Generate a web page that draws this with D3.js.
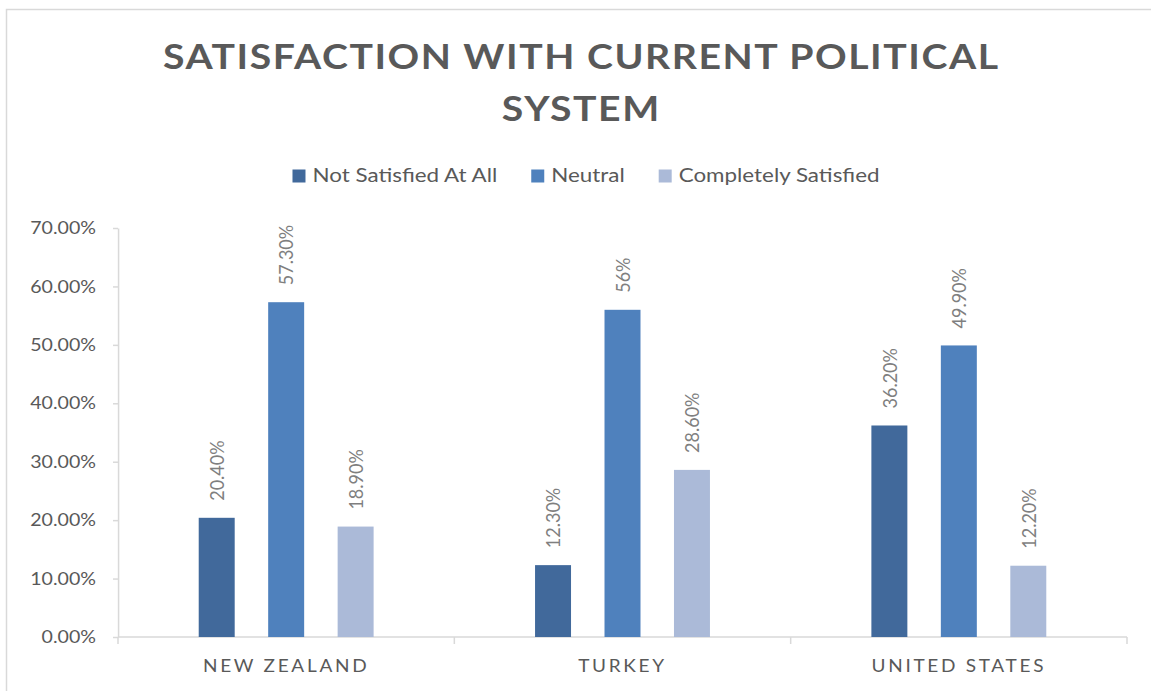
<!DOCTYPE html>
<html>
<head>
<meta charset="utf-8">
<script src="https://cdn.jsdelivr.net/npm/d3@7"></script>
<style>
  html, body { margin: 0; padding: 0; background: #ffffff; overflow: hidden; }
  svg { display: block; }
  text { font-family: Lato, "Open Sans", sans-serif; }
</style>
</head>
<body>
<svg id="chart"></svg>
<script>
// Survey data: share of respondents (percent) by country and satisfaction level
const countries = ["NEW ZEALAND", "TURKEY", "UNITED STATES"];
const seriesNames = ["Not Satisfied At All", "Neutral", "Completely Satisfied"];
const notSatisfied = [20.4, 12.3, 36.2];
const neutral = [57.3, 56, 49.9];
const completelySatisfied = [18.9, 28.6, 12.2];
const seriesColors = ["#41699b", "#4f81bd", "#abbad8"];
const yTickValues = [0, 10, 20, 30, 40, 50, 60, 70];
const titleLines = ["SATISFACTION WITH CURRENT POLITICAL", "SYSTEM"];

const seriesValues = [notSatisfied, neutral, completelySatisfied];

// The drawing is laid out in a horizontally condensed coordinate system and
// stretched to the window width, giving the wide-set lettering of the design.
const stretch = 1.12;
const width = 1151, height = 691;
const vbWidth = width / stretch;
const hx = v => v / stretch; // horizontal page pixels -> drawing units

const svg = d3.select("#chart")
  .attr("width", width)
  .attr("height", height)
  .attr("viewBox", `0 0 ${vbWidth} ${height}`)
  .attr("preserveAspectRatio", "none");

const textColor = "#595959";
const lineColor = "#d9d9d9";

svg.append("rect")
  .attr("x", 0).attr("y", 0).attr("width", vbWidth).attr("height", height)
  .attr("fill", "#ffffff");

// Chart area frame (continues past the right and bottom edges)
svg.append("rect")
  .attr("x", hx(6.5)).attr("y", 9.5)
  .attr("width", vbWidth).attr("height", height)
  .attr("fill", "none")
  .attr("stroke", lineColor)
  .attr("stroke-width", 1.5)
  .attr("vector-effect", "non-scaling-stroke");

// Title
const titleCenter = hx(580.5);
const titleGroup = svg.append("g");
const t1 = titleGroup.append("text")
  .attr("x", titleCenter).attr("y", 69.5)
  .attr("text-anchor", "middle")
  .attr("font-size", 35).attr("font-weight", 700)
  .attr("fill", textColor)
  .text(titleLines[0]);
const natural1 = t1.node().getComputedTextLength();
const target1 = hx(835);
const spacing = Math.max(0, (target1 - natural1) / (titleLines[0].length - 1));
t1.attr("textLength", target1).attr("lengthAdjust", "spacing");
const t2 = titleGroup.append("text")
  .attr("x", titleCenter).attr("y", 121.5)
  .attr("text-anchor", "middle")
  .attr("font-size", 35).attr("font-weight", 700)
  .attr("fill", textColor)
  .text(titleLines[1]);
const natural2 = t2.node().getComputedTextLength();
t2.attr("textLength", natural2 + spacing * (titleLines[1].length - 1))
  .attr("lengthAdjust", "spacing");

// Legend
const legend = svg.append("g");
const swatch = 13, swatchGap = 7, itemGap = 34;
const items = seriesNames.map((name, i) => {
  const g = legend.append("g");
  g.append("rect")
    .attr("width", hx(swatch)).attr("height", swatch)
    .attr("y", 169.5)
    .attr("fill", seriesColors[i]);
  const t = g.append("text")
    .attr("x", hx(swatch + swatchGap)).attr("y", 182.5)
    .attr("font-size", 20)
    .attr("fill", textColor)
    .text(name);
  return { g, w: hx(swatch + swatchGap) + t.node().getComputedTextLength() };
});
const legendTotal = d3.sum(items, d => d.w) + hx(itemGap) * (items.length - 1);
let lx = hx(586) - legendTotal / 2;
items.forEach(it => {
  it.g.attr("transform", `translate(${lx},0)`);
  lx += it.w + hx(itemGap);
});

// Scales
const plotLeft = hx(118), plotRight = hx(1127);
const y = d3.scaleLinear().domain([0, 70]).range([637, 228]);
const x0 = d3.scaleBand().domain(countries).range([plotLeft, plotRight]);
const x1 = d3.scaleBand().domain(seriesNames)
  .range([0, x0.bandwidth()])
  .paddingInner(0.482).paddingOuter(1.162);

// Y axis
const yAxis = svg.append("g")
  .attr("transform", `translate(${plotLeft},0)`)
  .call(d3.axisLeft(y)
    .tickValues(yTickValues)
    .tickFormat(d => d.toFixed(2) + "%")
    .tickSize(hx(5))
    .tickSizeOuter(0)
    .tickPadding(hx(17)));
yAxis.select(".domain").attr("stroke", lineColor).attr("stroke-width", 1.5)
  .attr("vector-effect", "non-scaling-stroke");
yAxis.selectAll(".tick line").attr("stroke", lineColor).attr("stroke-width", 1.5)
  .attr("vector-effect", "non-scaling-stroke");
yAxis.selectAll(".tick text")
  .attr("font-family", "Lato, 'Open Sans', sans-serif")
  .attr("font-size", 17.5)
  .attr("fill", textColor);

// X axis: baseline, category boundary ticks, category names
const xAxis = svg.append("g");
xAxis.append("line")
  .attr("x1", plotLeft).attr("x2", plotRight)
  .attr("y1", y(0)).attr("y2", y(0))
  .attr("stroke", lineColor).attr("stroke-width", 1.5)
  .attr("vector-effect", "non-scaling-stroke");
const boundaries = countries.map(c => x0(c)).concat([x0.range()[1]]);
xAxis.selectAll("line.boundary")
  .data(boundaries)
  .join("line")
  .attr("class", "boundary")
  .attr("x1", d => d).attr("x2", d => d)
  .attr("y1", y(0)).attr("y2", y(0) + 7)
  .attr("stroke", lineColor).attr("stroke-width", 1.5)
  .attr("vector-effect", "non-scaling-stroke");
xAxis.selectAll("text")
  .data(countries)
  .join("text")
  .attr("x", d => x0(d) + x0.bandwidth() / 2)
  .attr("y", 672)
  .attr("text-anchor", "middle")
  .attr("font-size", 17)
  .attr("letter-spacing", 2.4)
  .attr("fill", textColor)
  .text(d => d);

// Bars and value labels
const fmt = v => Number.isInteger(v) ? v + "%" : v.toFixed(2) + "%";
const groups = svg.append("g").selectAll("g")
  .data(countries)
  .join("g")
  .attr("transform", d => `translate(${x0(d)},0)`);

groups.selectAll("rect")
  .data((c, ci) => seriesNames.map((s, si) => ({ s, si, v: seriesValues[si][ci] })))
  .join("rect")
  .attr("x", d => x1(d.s))
  .attr("width", x1.bandwidth())
  .attr("y", d => y(d.v))
  .attr("height", d => y(0) - y(d.v))
  .attr("fill", d => seriesColors[d.si]);

groups.selectAll("text")
  .data((c, ci) => seriesNames.map((s, si) => ({ s, si, v: seriesValues[si][ci] })))
  .join("text")
  .attr("transform", d => `translate(${x1(d.s) + x1.bandwidth() / 2},${y(d.v) - 17}) rotate(-90)`)
  .attr("dy", "0.36em")
  .attr("text-anchor", "start")
  .attr("font-size", 18)
  .attr("fill", "#7f7f7f")
  .text(d => fmt(d.v));
</script>
</body>
</html>
